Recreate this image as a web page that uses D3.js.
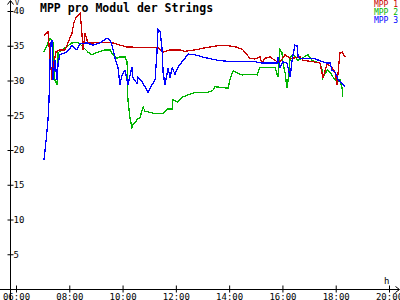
<html>
<script src="https://d3js.org/d3.v7.min.js"></script>
<style>
body { margin: 0; background: #fff; }
text { font-family: "DejaVu Sans Mono", monospace; }
</style>
<body>
<svg width="400" height="300"></svg>
<script>
// time in hours, voltage in V
var t1 = [7.05,7.20,7.28,7.35,7.39,7.50,7.65,7.84,7.95,8.10,8.18,8.25,8.33,8.40,8.44,8.52,8.59,8.70,8.89,9.15,9.42,9.64,9.90,10.17,10.39,10.65,10.92,11.14,11.33,11.52,11.78,12.16,12.34,12.72,13.09,13.58,13.96,14.30,14.52,14.67,14.78,14.97,15.16,15.23,15.35,15.53,15.80,15.91,16.10,16.29,16.40,16.66,16.78,17.15,17.41,17.52,17.68,17.86,17.98,18.05,18.09,18.16,18.24,18.35];
var mpp1 = [36.5,37.0,33.2,30.1,31.9,34.1,34.4,34.4,35.4,36.8,38.4,39.0,39.4,39.7,38.4,34.4,36.8,35.4,35.4,35.5,35.5,35.4,35.1,34.8,34.8,34.7,34.7,34.7,34.7,34.1,34.4,34.4,34.2,34.4,34.7,35.0,35.0,34.8,34.4,33.7,33.2,33.1,33.4,32.5,33.2,33.4,32.7,32.7,33.7,33.2,33.2,33.4,32.9,32.7,32.5,30.4,32.4,31.9,31.1,29.4,31.2,34.0,34.1,33.4];

var t2 = [7.05,7.28,7.39,7.46,7.54,7.58,7.84,8.10,8.33,8.52,8.70,8.85,9.08,9.34,9.53,9.64,9.79,9.90,10.09,10.17,10.20,10.28,10.35,10.39,10.47,10.58,10.65,10.77,10.84,11.14,11.52,11.67,11.86,11.89,12.08,12.23,12.72,13.21,13.39,13.47,13.96,14.03,14.15,14.30,14.48,14.86,15.05,15.16,15.72,15.83,15.91,15.98,16.02,16.10,16.17,16.25,16.29,16.40,16.59,16.96,17.11,17.41,17.49,17.52,17.68,17.79,17.90,18.05,18.16,18.24,18.27];
var mpp2 = [34.1,36.1,35.5,30.1,29.4,34.0,34.7,35.4,35.5,34.8,34.1,33.7,34.1,34.4,34.4,33.7,33.2,33.4,33.4,32.7,27.2,24.6,23.2,23.6,24.0,24.5,24.6,26.2,25.6,25.3,25.2,25.9,25.9,27.2,26.9,27.6,28.3,28.3,28.6,29.1,28.9,30.1,31.4,31.1,30.8,30.9,30.8,31.9,31.9,30.5,34.4,34.0,32.5,31.1,28.9,31.1,33.4,33.7,32.9,33.7,32.9,32.5,31.5,30.4,31.5,31.2,30.5,29.8,30.1,28.9,27.6];

var t3 = [7.05,7.13,7.20,7.24,7.28,7.31,7.35,7.39,7.46,7.54,7.58,7.65,7.91,8.10,8.29,8.40,8.67,8.89,9.15,9.42,9.53,9.60,9.72,9.83,9.90,9.98,10.09,10.20,10.35,10.39,10.54,10.58,10.73,10.84,10.95,11.11,11.22,11.29,11.33,11.41,11.48,11.52,11.59,11.71,11.78,11.86,11.97,12.08,12.23,12.34,12.46,12.72,12.98,13.21,13.58,14.11,14.97,15.27,15.80,15.83,15.91,16.02,16.17,16.29,16.36,16.47,16.55,16.59,16.66,17.15,17.52,17.68,17.79,17.86,17.98,18.09,18.24,18.35];
var mpp3 = [18.6,21.4,24.3,27.2,32.9,35.5,35.8,30.1,32.9,30.1,32.5,33.7,34.1,35.0,34.4,35.3,35.4,35.1,35.4,36.1,35.8,35.1,33.2,31.8,29.4,30.8,31.5,29.4,31.9,30.4,29.6,30.5,29.8,29.1,28.3,29.4,30.1,34.0,37.3,37.0,34.7,31.2,29.4,31.8,30.4,31.8,30.9,31.9,32.7,33.2,33.8,33.7,33.4,33.2,32.9,32.7,32.7,32.5,32.5,33.4,31.9,32.7,32.5,30.5,32.9,35.1,35.0,33.4,33.2,33.2,32.7,32.5,32.5,31.5,31.2,30.1,29.6,29.1];

var yTicks = [5,10,15,20,25,30,35,40];
var xTicks = [6,8,10,12,14,16,18,20];
var names = ["MPP 1","MPP 2","MPP 3"];
var colors = ["#c80000","#00b400","#0000ff"];

var svg = d3.select("svg");
var x = d3.scaleLinear().domain([6,20]).range([16,389]);
var y = d3.scaleLinear().domain([0,40]).range([289,11]);

// axis lines with arrows
svg.append("line").attr("x1",10.5).attr("x2",10.5).attr("y1",1).attr("y2",300)
  .attr("stroke","#000").attr("stroke-width",1);
svg.append("line").attr("x1",0).attr("x2",399).attr("y1",289.5).attr("y2",289.5)
  .attr("stroke","#000").attr("stroke-width",1);
svg.append("path").attr("d","M7.5,4.5 L10.5,0.5 L13.5,4.5").attr("fill","none").attr("stroke","#000");
svg.append("path").attr("d","M395.5,286.5 L399.5,289.5 L395.5,292.5").attr("fill","none").attr("stroke","#000");

var ya = svg.append("g").attr("transform","translate(10.5,0)")
  .call(d3.axisLeft(y).tickValues(yTicks).tickSize(3));
ya.select(".domain").remove();
ya.selectAll("line").attr("x1",-3).attr("x2",3);
ya.selectAll("text").attr("x",3).attr("text-anchor","start")
  .style("font-size","9px").attr("fill","#000").attr("font-family","DejaVu Sans Mono");

var xa = svg.append("g").attr("transform","translate(0,289.5)")
  .call(d3.axisBottom(x).tickValues(xTicks).tickSize(3)
    .tickFormat(function(d){ return (d<10?"0":"")+d+":00"; }));
xa.select(".domain").remove();
xa.selectAll("line").attr("y1",-4).attr("y2",3);
xa.selectAll("text").attr("y",4).attr("dy","0.71em")
  .style("font-size","9px").attr("fill","#000").attr("font-family","DejaVu Sans Mono");

svg.append("text").attr("x",15).attr("y",5).text("V").style("font-size","7px");
svg.append("text").attr("x",384).attr("y",284).text("h").style("font-size","9px");

svg.append("text").attr("x",40).attr("y",12).text("MPP pro Modul der Strings")
  .style("font-size","11.5px").style("font-weight","bold");

var line = d3.line().x(function(d){ return x(d[0]); }).y(function(d){ return y(d[1]); });
var series = [d3.zip(t1,mpp1), d3.zip(t2,mpp2), d3.zip(t3,mpp3)];
// draw green first, then red, blue on top
[1,0,2].forEach(function(i){
  svg.append("path").datum(series[i]).attr("d",line)
    .attr("fill","none").attr("stroke",colors[i]).attr("stroke-width",1.3)
    .attr("shape-rendering","crispEdges");
});

names.forEach(function(n,i){
  svg.append("text").attr("x",398).attr("y",7+i*8).attr("text-anchor","end")
    .text(n).attr("fill",colors[i]).style("font-size","8px");
});
</script>
</body>
</html>
